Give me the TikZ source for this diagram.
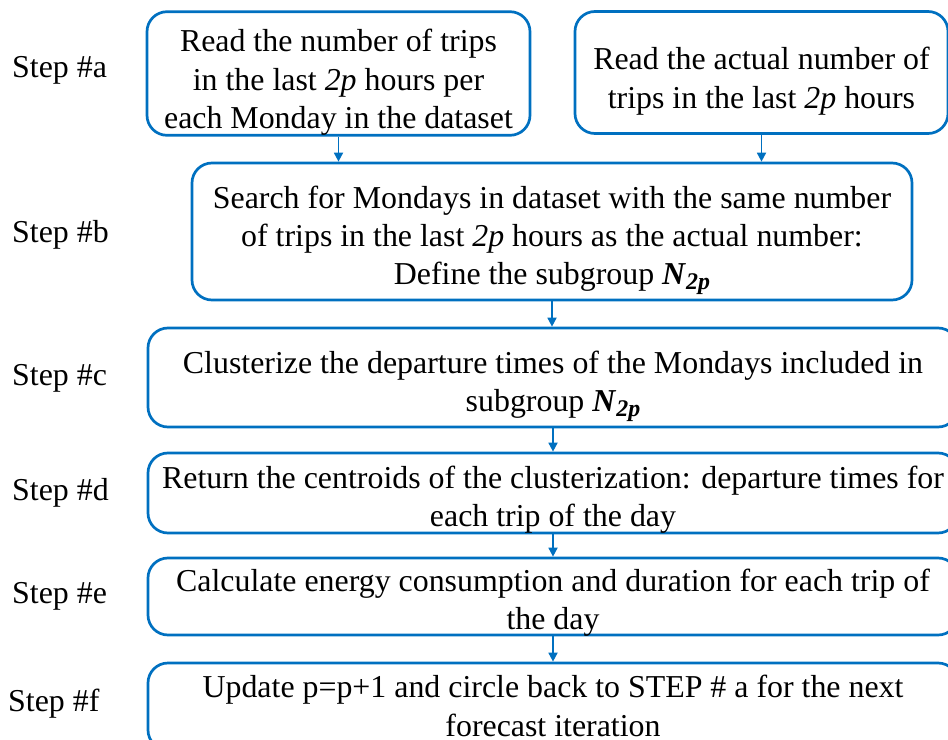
\documentclass[tikz,border=0pt]{standalone}
\usepackage{fontspec}
\setmainfont{Liberation Serif}
\usetikzlibrary{arrows.meta}
\definecolor{boxblue}{RGB}{0,112,192}
\newcommand{\Ntwop}{\textbf{\textit{N}}\raisebox{-0.35ex}{\fontsize{24}{24}\selectfont\bfseries\itshape 2p}}
\newcommand{\tstrut}{\rule{0pt}{40bp}}
\begin{document}
\begin{tikzpicture}[x=1bp,y=-1bp,
  box/.style={draw=boxblue, line width=2.7bp, rounded corners=20bp, align=center, inner sep=0pt, font=\fontsize{32}{38.5}\selectfont},
  txt/.style={align=center, inner sep=0pt, font=\fontsize{32}{38.5}\selectfont},
  conn/.style={draw=boxblue, line width=1.7bp, -{Triangle[width=9bp,length=9bp]}},
  lbl/.style={font=\fontsize{32}{38}\selectfont, inner sep=0pt, anchor=west}]
\useasboundingbox (0,0) rectangle (948,740);
\clip (0,0) rectangle (948,740);
% step labels
\node[lbl] (sa) at (12,70) {Step \#a};
\node[lbl] (sb) at (12,235) {Step \#b};
\node[lbl] (sc) at (12,378) {Step \#c};
\node[lbl] (sd) at (12,493) {Step \#d};
\node[lbl] (se) at (12,596) {Step \#e};
\node[lbl] (sf) at (8,704) {Step \#f};
% boxes
\node[box, minimum width=383bp, minimum height=123bp] (a1) at (338.5,73.5)
  {\tstrut Read the number of trips\\in the last \textit{2p} hours per\\each Monday in the dataset};
\node[box, minimum width=373bp, minimum height=122bp] (a2) at (761.5,72.5)
  {\tstrut Read the actual number of\\trips in the last \textit{2p} hours};
\node[box, minimum width=720bp, minimum height=137bp] (b) at (552,231.5)
  {\tstrut Search for Mondays in dataset with the same number\\of trips in the last \textit{2p} hours as the actual number:\\Define the subgroup \Ntwop};
\node[box, minimum width=810bp, minimum height=99bp] (c) at (553,377.5)
  {\tstrut Clusterize the departure times of the Mondays included in\\subgroup \Ntwop};
\node[box, minimum width=810bp, minimum height=80bp] (d) at (553,493) {};
\node[txt] (dt) at (553,500)
  {Return the centroids of the clusterization: departure times for\\each trip of the day};
\node[box, minimum width=810bp, minimum height=77bp] (e) at (553,596.5) {};
\node[txt] (et) at (553,603)
  {Calculate energy consumption and duration for each trip of\\the day};
\node[box, minimum width=810bp, minimum height=87bp] (f) at (553,706.5) {};
\node[txt] (ft) at (553,706)
  {Update p=p+1 and circle back to STEP \# a for the next\\forecast iteration};
% connectors
\draw[conn] (a1.south) -- (a1.south |- b.north);
\draw[conn] (a2.south) -- (a2.south |- b.north);
\draw[conn] (b.south) -- (b.south |- c.north);
\draw[conn] (c.south) -- (c.south |- d.north);
\draw[conn] (d.south) -- (d.south |- e.north);
\draw[conn] (e.south) -- (e.south |- f.north);
\end{tikzpicture}
\end{document}
